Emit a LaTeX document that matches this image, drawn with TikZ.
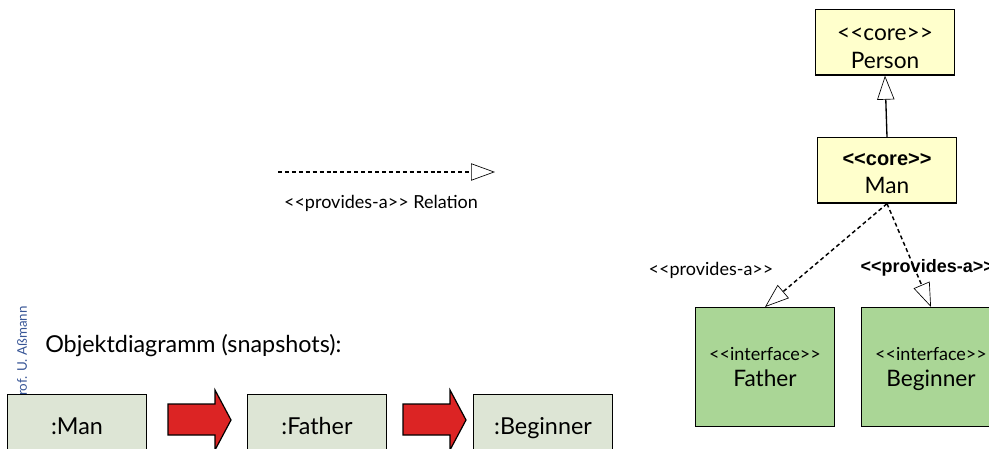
\documentclass[tikz,border=0pt]{standalone}
\usepackage{fontspec}
\setmainfont{Lato}
\newfontfamily\arialfont{Liberation Sans}
\usepackage{xcolor}
\usetikzlibrary{arrows.meta}

\definecolor{coreyellow}{RGB}{255,255,204}
\definecolor{ifgreen}{RGB}{170,214,150}
\definecolor{objgrey}{RGB}{221,229,213}
\definecolor{snapred}{RGB}{220,36,36}
\definecolor{profblue}{RGB}{55,85,150}

\newcommand{\stereo}[1]{<{}<#1>{}>}

\begin{document}
\begin{tikzpicture}[x=0.75pt,y=-0.75pt,
  cls/.style={draw, line width=1pt, align=center, anchor=north west, inner sep=0pt, minimum width=104pt},
  core/.style={cls, fill=coreyellow, minimum height=49pt, font=\fontsize{17}{21}\selectfont},
  iface/.style={cls, fill=ifgreen, minimum height=89pt, text depth=0pt, font=\fontsize{17}{19.5}\selectfont},
  obj/.style={cls, fill=objgrey, minimum height=47pt, text depth=0pt, font=\fontsize{17.5}{20}\selectfont},
  lbl/.style={font=\fontsize{13.5}{16}\selectfont},
  boldlbl/.style={font=\arialfont\bfseries\fontsize{13.5}{16}\selectfont},
  gen/.style={-{Triangle[open, length=18pt, width=13pt, line width=0.5pt]}, line width=1pt},
  prov/.style={-{Triangle[open, length=18pt, width=13pt, line width=0.5pt]}, line width=1.1pt, dash pattern=on 3pt off 2.2pt},
  snap/.style={draw, fill=snapred, line width=0.9pt},
]
\useasboundingbox (0,0) rectangle (989,449);
\clip (0,0) rectangle (989,449);
% legend
\coordinate (legA) at (278,172);
\coordinate (legB) at (495,172);
\draw[prov] (legA) -- (legB);
\node[lbl] (legtxt) at (381,203) {\stereo{provides-a} Relation};
% class diagram
\node[core] (person) at (815,9) {\rule{0pt}{18pt}\stereo{core}\\Person};
\node[core] (man) at (817,137) {\rule{0pt}{14pt}{\arialfont\bfseries\fontsize{15}{21}\selectfont\stereo{core}}\\Man};
\node[iface] (father) at (695,307) {{\fontsize{13.5}{19.5}\selectfont\stereo{interface}}\\Father};
\node[iface] (beginner) at (861,307) {{\fontsize{13.5}{19.5}\selectfont\stereo{interface}}\\Beginner};
\node[lbl] (provl) at (711,270) {\stereo{provides-a}};
\node[boldlbl, anchor=west] (provr) at (856,268) {\stereo{provides-a}};
\draw[gen] (man.north) -- (person.south);
\draw[prov] (man.south) -- (father.north);
\draw[prov] (man.south) -- (beginner.north);
% snapshots
\node[rotate=90, anchor=west, text=profblue, font=\fontsize{10}{12}\selectfont, inner sep=0pt] (prof) at (22,404) {Prof. U. Aßmann};
\node[anchor=west, inner sep=0pt, font=\fontsize{17.5}{20}\selectfont] (objtitle) at (45,346) {Objektdiagramm (snapshots):};
\node[obj] (oman) at (7,394) {:Man};
\node[obj] (ofather) at (247,394) {:Father};
\node[obj] (obeginner) at (473,394) {:Beginner};
\draw[snap] (168,404) -- (215,404) -- (215,390) -- (231,420) -- (215,450) -- (215,435) -- (168,435) -- cycle;
\draw[snap] (403,404) -- (450,404) -- (450,390) -- (466,420) -- (450,450) -- (450,435) -- (403,435) -- cycle;
\end{tikzpicture}
\end{document}
